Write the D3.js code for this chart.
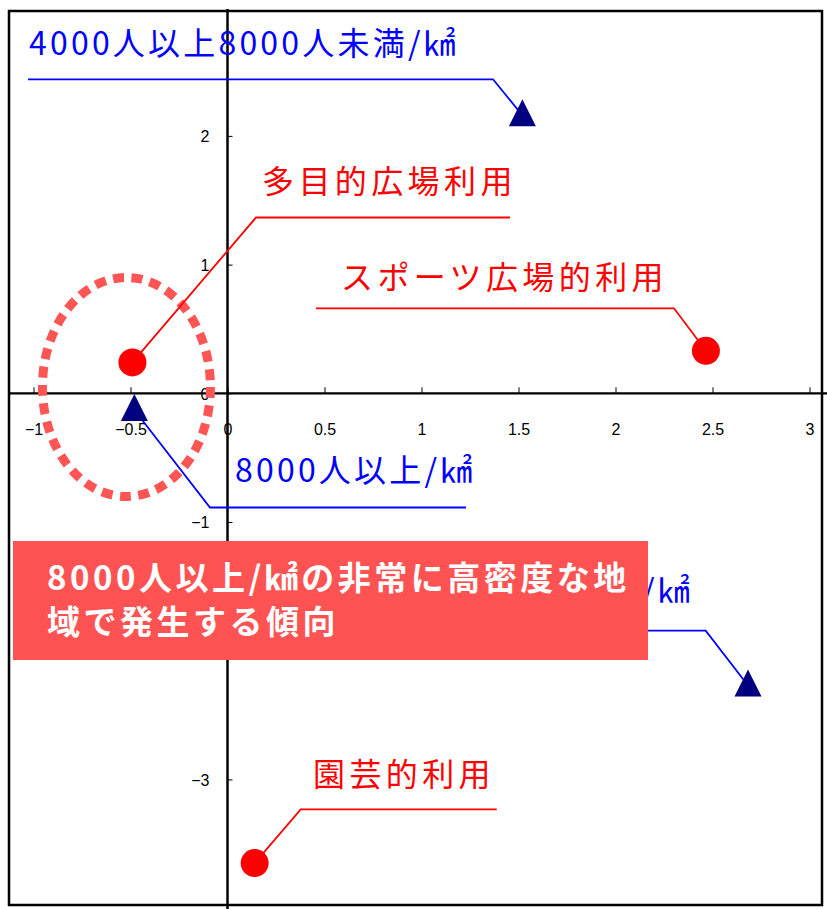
<!DOCTYPE html>
<html><head><meta charset="utf-8">
<script src="https://cdn.jsdelivr.net/npm/d3@7"></script>
<style>
html,body{margin:0;padding:0;background:#fff;}
svg{display:block;}
</style></head>
<body>
<svg id="chart" width="827" height="909"></svg>
<script>
// ---- data ----
const circleLabels = ["多目的広場利用", "スポーツ広場的利用", "園芸的利用"];
const circleX = [-0.49, 2.466, 0.14];
const circleY = [0.24, 0.33, -3.65];

const triLabels = ["4000人以上8000人未満/㎢", "8000人以上/㎢", "4000人未満/㎢"];
const triX = [1.52, -0.48, 2.683];
const triY = [2.16, -0.13, -2.27];

const xTicks = [-1, -0.5, 0, 0.5, 1, 1.5, 2, 2.5, 3];
const yTicks = [-3, -2, -1, 0, 1, 2];

const noteLines = ["8000人以上/㎢の非常に高密度な地", "域で発生する傾向"];

// ---- layout (annotation placement, pixels) ----
const circleAnno = [
  {tx: 262, ty: 193, anchor: "start"},
  {tx: 341, ty: 289, anchor: "start"},
  {tx: 313, ty: 786, anchor: "start"}
];
const triAnno = [
  {tx: 29, ty: 55, anchor: "start"},
  {tx: 235, ty: 482, anchor: "start"},
  {tx: 693, ty: 602, anchor: "end"}
];

const svg = d3.select("#chart");
const x = d3.scaleLinear().domain([-1, 3]).range([33.5, 809.5]);
const y = d3.scaleLinear().domain([-3, 2]).range([779.4, 135.9]);
const fmt = d3.format("~g");

const FONT = "'Noto Sans CJK JP', 'Noto Sans', sans-serif";
const TICKFONT = "'Liberation Sans Narrow', 'Liberation Sans', Arial, sans-serif";

// frame
svg.append("rect").attr("x", 9).attr("y", 11).attr("width", 813).attr("height", 894)
  .attr("fill", "none").attr("stroke", "#000").attr("stroke-width", 2.5);

// x axis
const gx = svg.append("g").attr("transform", `translate(0,${y(0)})`)
  .call(d3.axisTop(x).tickValues(xTicks).tickFormat(fmt).tickSize(6).tickSizeOuter(0));
gx.select(".domain").remove();
gx.selectAll(".tick line").attr("stroke", "#000").attr("stroke-width", 1);
gx.selectAll(".tick text").attr("y", 42).attr("dy", 0)
  .attr("font-family", TICKFONT).attr("font-size", 16).attr("fill", "#000");
svg.append("line").attr("x1", 9).attr("x2", 829).attr("y1", y(0)).attr("y2", y(0))
  .attr("stroke", "#000").attr("stroke-width", 2.2);

// y axis
const gy = svg.append("g").attr("transform", `translate(${x(0)},0)`)
  .call(d3.axisRight(y).tickValues(yTicks).tickFormat(fmt).tickSize(5).tickSizeOuter(0));
gy.select(".domain").remove();
gy.selectAll(".tick line").attr("stroke", "#000").attr("stroke-width", 1);
gy.selectAll(".tick text").attr("x", -18).attr("text-anchor", "end").attr("dy", "0.36em")
  .attr("font-family", TICKFONT).attr("font-size", 16).attr("fill", "#000");
svg.append("line").attr("x1", x(0)).attr("x2", x(0)).attr("y1", 9).attr("y2", 909)
  .attr("stroke", "#000").attr("stroke-width", 2.5);

// dashed ellipse highlight (data units)
svg.append("ellipse")
  .attr("cx", x(-0.521)).attr("cy", y(0.049))
  .attr("rx", x(0.433) - x(0)).attr("ry", y(0) - y(0.851))
  .attr("fill", "none").attr("stroke", "#ff5555").attr("stroke-width", 9)
  .attr("stroke-dasharray", "11 7.5");

const line = d3.line();

// leader lines
const cp = i => [x(circleX[i]), y(circleY[i])];
const tp = i => [x(triX[i]), y(triY[i])];
const circleLeaders = [
  [cp(0), [256, 217.5], [510, 217.5]],
  [[316, 308.3], [674, 308.3], cp(1)],
  [cp(2), [300.7, 809.3], [496.7, 809.3]]
];
const triLeaders = [
  [[28, 79.3], [493, 79.3], tp(0)],
  [tp(1), [210, 507.5], [466, 507.5]],
  [[450, 630.7], [705.7, 630.7], tp(2)]
];
circleLeaders.forEach(pts => svg.append("path").attr("d", line(pts)).attr("fill", "none")
  .attr("stroke", "#ff0000").attr("stroke-width", 1.8));
triLeaders.forEach(pts => svg.append("path").attr("d", line(pts)).attr("fill", "none")
  .attr("stroke", "#0000ff").attr("stroke-width", 1.8));

// markers
svg.selectAll("circle.pt").data(circleLabels).join("circle").attr("class", "pt")
  .attr("cx", (d, i) => x(circleX[i])).attr("cy", (d, i) => y(circleY[i]))
  .attr("r", 14).attr("fill", "#ff0000");

const triShape = d3.line()([[0, -16], [13.5, 11], [-13.5, 11]]) + "Z";
svg.selectAll("path.tri").data(triLabels).join("path").attr("class", "tri")
  .attr("d", triShape)
  .attr("transform", (d, i) => `translate(${x(triX[i])},${y(triY[i])})`)
  .attr("fill", "#000080");

// labels
circleLabels.forEach((lab, i) => {
  const a = circleAnno[i];
  svg.append("text").attr("x", a.tx).attr("y", a.ty).attr("text-anchor", a.anchor)
    .attr("font-family", FONT).attr("font-size", 32).attr("letter-spacing", 4.4)
    .attr("fill", "#ff0000").text(lab);
});
triLabels.forEach((lab, i) => {
  const a = triAnno[i];
  svg.append("text").attr("x", a.tx).attr("y", a.ty).attr("text-anchor", a.anchor)
    .attr("font-family", FONT).attr("font-size", 32).attr("letter-spacing", 3.2)
    .attr("fill", "#0000ff").text(lab);
});

// note box
svg.append("rect").attr("x", 13).attr("y", 541).attr("width", 635).attr("height", 119)
  .attr("fill", "#ff5353");
svg.selectAll("text.note").data(noteLines).join("text").attr("class", "note")
  .attr("x", 47).attr("y", (d, i) => 590 + i * 44)
  .attr("font-family", FONT).attr("font-size", 33).attr("font-weight", "bold")
  .attr("letter-spacing", 3.5).attr("fill", "#fff").text(d => d);
</script>
</body></html>
